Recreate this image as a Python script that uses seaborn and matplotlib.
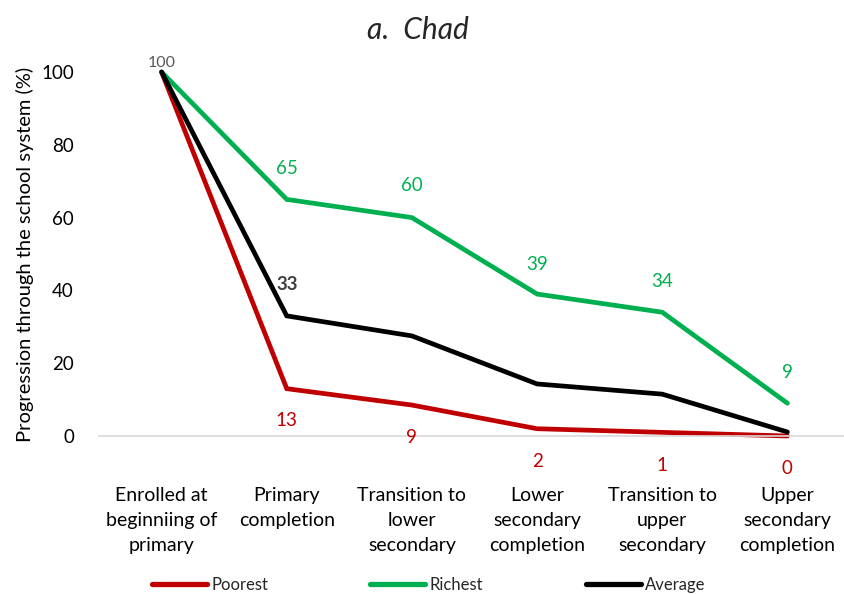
import matplotlib
matplotlib.use("Agg")
import matplotlib.pyplot as plt
from matplotlib.lines import Line2D
import seaborn as sns
import pandas as pd

stages = ["Enrolled at\nbeginniing of\nprimary", "Primary\ncompletion",
          "Transition to\nlower\nsecondary", "Lower\nsecondary\ncompletion",
          "Transition to\nupper\nsecondary", "Upper\nsecondary\ncompletion"]
poorest = [100, 13, 8.5, 2, 1, 0]
richest = [100, 65, 60, 39, 34, 9]
average = [100, 33, 27.5, 14.3, 11.5, 1.1]
poorest_labels = ["", "13", "9", "2", "1", "0"]
richest_labels = ["", "65", "60", "39", "34", "9"]
average_labels = ["100", "33", "", "", "", ""]
groups = ["Poorest", "Richest", "Average"]
yticks = [0, 20, 40, 60, 80, 100]
title = "a.  Chad"
ylabel = "Progression through the school system (%)"

sns.set_theme(style="white")
plt.rcParams['font.family'] = ['Lato', 'DejaVu Sans']

RED, GREEN, BLACK = "#C00000", "#00B050", "#000000"
palette = {"Poorest": RED, "Richest": GREEN, "Average": BLACK}

rows = []
for name, vals in zip(groups, [poorest, richest, average]):
    for i, v in enumerate(vals):
        rows.append({"pos": i, "value": v, "group": name})
df = pd.DataFrame(rows)

W, H = 845, 594
fig = plt.figure(figsize=(W / 100, H / 100), dpi=100)
ax = fig.add_axes([99 / W, 1 - 436 / H, (845 - 99) / W, (436 - 72) / H])

sns.lineplot(data=df, x="pos", y="value", hue="group", palette=palette,
             hue_order=groups, linewidth=3.4, ax=ax, sort=False, legend=False)
for ln in ax.lines:
    ln.set_clip_on(False)
    ln.set_solid_joinstyle("miter")

ax.set_xlim(-0.5, 5.46)
ax.set_ylim(0, 100)
ax.set_yticks(yticks)
ax.set_xticks(range(len(stages)))
ax.set_xticklabels(stages, fontsize=14, color="#000000", linespacing=1.56, va="top")
ax.tick_params(axis="x", length=0, pad=37)
ax.tick_params(axis="y", length=0, pad=18, labelsize=13.5, labelcolor="#000000")
for s in ["top", "right", "left"]:
    ax.spines[s].set_visible(False)
ax.spines["bottom"].set_color("#D9D9D9")
ax.spines["bottom"].set_linewidth(1.2)
ax.set_xlabel("")
ax.set_ylabel(ylabel, fontsize=14.5, color="#000000", labelpad=5)

# data labels (pixel offsets)
rich_off = [0, 31, 32, 30, 31, 31]
poor_off = [0, -32, -32, -33, -33, -32]
for i, (v, t) in enumerate(zip(richest, richest_labels)):
    if t:
        ax.annotate(t, (i, v), xytext=(0, rich_off[i]), textcoords="offset pixels",
                    ha="center", va="center", color=GREEN, fontsize=13.5,
                    annotation_clip=False)
for i, (v, t) in enumerate(zip(poorest, poorest_labels)):
    if t:
        ax.annotate(t, (i, v), xytext=(0, poor_off[i]), textcoords="offset pixels",
                    ha="center", va="center", color=RED, fontsize=13.5,
                    annotation_clip=False)
ax.annotate(average_labels[0], (0, average[0]), xytext=(0, 9), textcoords="offset pixels",
            ha="center", va="center", color="#595959", fontsize=11.5, annotation_clip=False)
ax.annotate(average_labels[1], (1, average[1]), xytext=(0, 31), textcoords="offset pixels",
            ha="center", va="center", color="#404040", fontsize=13.5, fontweight="bold",
            annotation_clip=False)

fig.text(0.494, 1 - 30 / H, title, ha="center", va="center", fontsize=21.5, style="italic")

# legend entries, one per group
leg_x = [152, 370, 586]
for name, x0 in zip(groups, leg_x):
    h = Line2D([0], [0], color=palette[name], linewidth=3.8, solid_capstyle="round")
    fig.legend([h], [name], loc="center left", bbox_to_anchor=(x0 / W, 1 - 585 / H),
               frameon=False, fontsize=12, handlelength=3.3, handletextpad=0.25,
               borderpad=0, borderaxespad=0)

fig.savefig("out.png", dpi=100)
